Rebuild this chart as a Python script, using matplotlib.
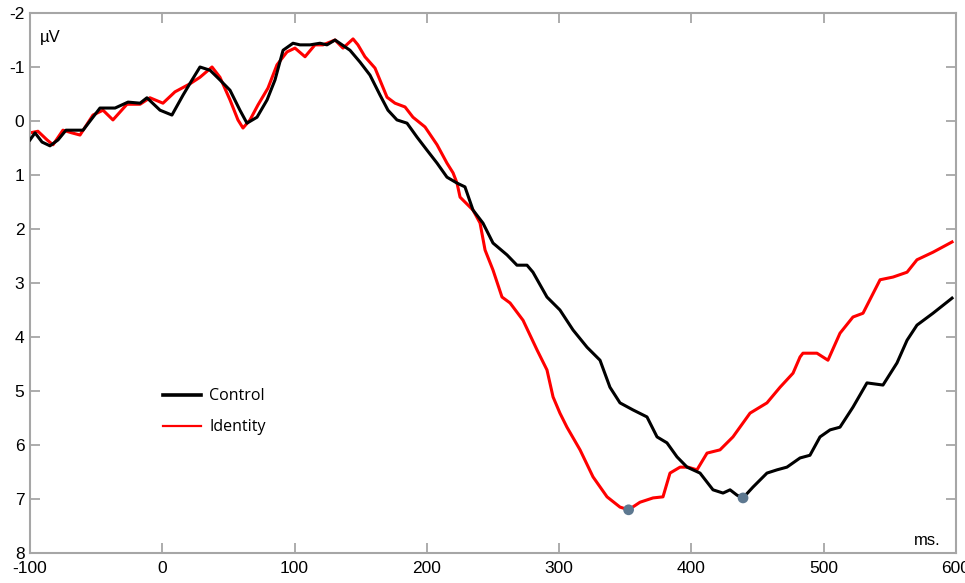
import matplotlib
matplotlib.use("Agg")
import matplotlib.pyplot as plt
from matplotlib.lines import Line2D

# Control (black) waveform: time (ms), amplitude (µV)
control_t = [-100, -96.2, -90.9, -84.9, -78.8, -72.8, -59.9, -47.1, -35.7, -25.9, -16.8, -11.6,
             -1.7, 7.3, 15.7, 22.5, 28.5, 36.1, 43.6, 51.2, 58.7, 64.0, 71.6, 79.2, 85.2, 91.3,
             98.8, 104.1, 111.7, 119.2, 124.5, 130.6, 141.9, 149.5, 157.0, 164.6, 170.6, 177.4,
             185.0, 192.6, 200.1, 207.7, 215.2, 222.8, 228.8, 234.9, 242.4, 250.0, 260.6, 268.1,
             275.7, 280.2, 290.8, 300.6, 310.5, 321.1, 330.9, 338.4, 346.0, 355.8, 366.4, 374.0,
             381.5, 389.1, 396.7, 406.5, 416.3, 423.9, 429.2, 434.5, 439.0, 446.5, 457.1, 464.7,
             472.2, 482.1, 489.6, 497.2, 504.8, 512.3, 522.1, 532.7, 544.8, 555.4, 563.0, 570.5,
             582.6, 595.5, 597.0]
control_v = [0.35, 0.22, 0.39, 0.46, 0.35, 0.17, 0.17, -0.24, -0.24, -0.35, -0.33, -0.43,
             -0.20, -0.11, -0.48, -0.76, -1.00, -0.94, -0.76, -0.57, -0.20, 0.04, -0.07, -0.39,
             -0.76, -1.31, -1.44, -1.41, -1.41, -1.44, -1.41, -1.50, -1.31, -1.09, -0.85, -0.48,
             -0.20, -0.02, 0.04, 0.30, 0.54, 0.78, 1.04, 1.15, 1.22, 1.65, 1.89, 2.26, 2.48, 2.67,
             2.67, 2.80, 3.26, 3.50, 3.87, 4.19, 4.43, 4.93, 5.22, 5.35, 5.48, 5.85, 5.96, 6.22,
             6.41, 6.52, 6.83, 6.89, 6.83, 6.93, 6.98, 6.78, 6.52, 6.46, 6.41, 6.24, 6.19, 5.85,
             5.72, 5.67, 5.30, 4.85, 4.89, 4.48, 4.06, 3.78, 3.56, 3.31, 3.28]

# Identity (red) waveform
identity_t = [-100, -94.0, -87.1, -82.6, -75.1, -68.3, -62.2, -52.4, -44.8, -37.3, -26.7, -16.8,
              -9.3, 0.5, 9.6, 21.0, 28.5, 37.6, 43.6, 51.2, 57.2, 61.0, 66.3, 72.4, 79.9, 86.7,
              94.3, 100.3, 107.9, 115.4, 121.5, 130.6, 136.6, 144.2, 147.9, 153.2, 160.8, 169.9,
              175.9, 183.5, 189.5, 198.6, 207.7, 215.2, 219.8, 222.8, 225.1, 234.9, 240.2, 244.0,
              250.0, 256.8, 262.9, 272.7, 283.3, 290.8, 295.4, 300.6, 305.9, 315.8, 325.6, 336.2,
              346.0, 352.5, 361.1, 371.0, 378.5, 383.8, 391.4, 397.4, 404.2, 411.8, 421.6, 431.4,
              444.3, 457.1, 467.0, 476.8, 482.1, 484.3, 494.9, 503.2, 512.3, 522.1, 529.7, 542.6,
              552.4, 563.0, 570.5, 582.6, 595.5, 597.0]
identity_v = [0.22, 0.19, 0.35, 0.44, 0.17, 0.22, 0.26, -0.11, -0.20, -0.02, -0.31, -0.31,
              -0.43, -0.33, -0.54, -0.69, -0.81, -1.00, -0.81, -0.39, -0.02, 0.13, -0.02, -0.30,
              -0.61, -1.04, -1.28, -1.35, -1.19, -1.41, -1.41, -1.50, -1.35, -1.52, -1.41, -1.19,
              -0.98, -0.44, -0.33, -0.26, -0.07, 0.11, 0.44, 0.78, 0.96, 1.15, 1.41, 1.65, 1.89,
              2.39, 2.76, 3.26, 3.37, 3.69, 4.24, 4.61, 5.11, 5.41, 5.67, 6.09, 6.59, 6.96, 7.15,
              7.20, 7.06, 6.98, 6.96, 6.52, 6.41, 6.41, 6.46, 6.15, 6.09, 5.85, 5.41, 5.22, 4.93,
              4.67, 4.37, 4.30, 4.30, 4.43, 3.93, 3.63, 3.56, 2.94, 2.89, 2.80, 2.57, 2.43, 2.26,
              2.24]

# Peak markers
peak_t = [352.5, 439.0]
peak_v = [7.20, 6.98]

x_ticks = [-100, 0, 100, 200, 300, 400, 500, 600]
y_ticks = [-2, -1, 0, 1, 2, 3, 4, 5, 6, 7, 8]

fig = plt.figure(figsize=(9.65, 5.83), dpi=100)
ax = fig.add_axes([30 / 965, 1 - 553 / 583, 926 / 965, 540 / 583])

ax.plot(control_t, control_v, color="black", lw=2.2, solid_joinstyle="round", zorder=3)
ax.plot(identity_t, identity_v, color="#ff0000", lw=2.2, solid_joinstyle="round", zorder=2)
ax.scatter(peak_t, peak_v, s=60, color="#5d7890", zorder=5, edgecolors="none")

ax.set_xlim(-100, 600)
ax.set_ylim(8, -2)
ax.set_xticks(x_ticks)
ax.set_yticks(y_ticks)
ax.set_xticklabels([str(v) for v in x_ticks])
ax.set_yticklabels([str(v) for v in y_ticks])

gray = "#a6a6a6"
for s in ax.spines.values():
    s.set_color(gray)
    s.set_linewidth(1.5)
ax.tick_params(direction="in", length=7, width=1.3, color=gray, top=True, right=True,
               labelsize=12.5, labelcolor="black")
ax.tick_params(axis="x", pad=6)
ax.tick_params(axis="y", pad=4)
for lbl in ax.get_xticklabels() + ax.get_yticklabels():
    lbl.set_fontfamily("Liberation Sans")

ax.text(0.011, 0.955, "µV", transform=ax.transAxes, fontsize=12, family="Liberation Sans",
        ha="left", va="center")
ax.text(0.983, 0.024, "ms.", transform=ax.transAxes, fontsize=12, family="Liberation Sans",
        ha="right", va="center")

handles = [Line2D([], [], color="black", lw=2.6), Line2D([], [], color="#ff0000", lw=1.6)]
leg = ax.legend(handles, ["Control", "Identity"], loc="upper left",
                bbox_to_anchor=(0.1436, 0.305), frameon=False, borderaxespad=0, borderpad=0,
                handlelength=2.4, handletextpad=0.5, labelspacing=0.95,
                prop={"family": "Open Sans", "size": 11.5})

fig.savefig("out.png", dpi=100)
